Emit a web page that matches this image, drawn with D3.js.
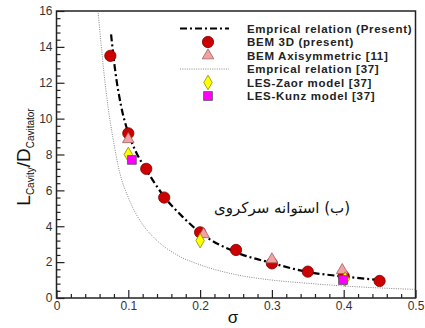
<!DOCTYPE html>
<html>
<head>
<meta charset="utf-8">
<script src="https://cdn.jsdelivr.net/npm/d3@7"></script>
<style>
  body { margin: 0; background: #fff; }
  svg { display: block; }
  .tick text { font-family: "Liberation Sans", Arial, sans-serif; font-size: 12px; fill: #333; }
</style>
</head>
<body>
<svg id="chart" width="425" height="328"></svg>
<script>
// Empirical relation (Present) - dash-dot curve
const empPresentSigma = [0.076, 0.082, 0.09, 0.1, 0.11, 0.125, 0.15, 0.175, 0.2, 0.25, 0.3, 0.35, 0.4, 0.45];
const empPresentL = [14.7, 12.6, 10.7, 9.2, 8.2, 7.15, 5.65, 4.55, 3.65, 2.55, 1.95, 1.45, 1.2, 1.0];
// Empirical relation [37] - dotted curve
const emp37Sigma = [0.058, 0.062, 0.066, 0.072, 0.08, 0.088, 0.1, 0.12, 0.14, 0.17, 0.2, 0.25, 0.3, 0.35, 0.4, 0.45, 0.5];
const emp37L = [15.9, 14.2, 12.6, 10.6, 8.6, 7.0, 5.6, 4.1, 3.2, 2.35, 1.85, 1.3, 1.0, 0.82, 0.67, 0.56, 0.48];
// BEM 3D (present)
const bem3dSigma = [0.075, 0.1, 0.125, 0.15, 0.2, 0.25, 0.3, 0.35, 0.4, 0.45];
const bem3dL = [13.5, 9.18, 7.2, 5.6, 3.66, 2.68, 1.93, 1.47, 1.22, 0.95];
// BEM Axisymmetric [11]
const bemAxiSigma = [0.1, 0.205, 0.3, 0.398];
const bemAxiL = [8.85, 3.55, 2.15, 1.55];
// LES-Zaor model [37]
const zaorSigma = [0.1, 0.2, 0.402];
const zaorL = [8.0, 3.2, 1.05];
// LES-Kunz model [37]
const kunzSigma = [0.105, 0.399];
const kunzL = [7.7, 1.0];

const xMajor = [0, 0.1, 0.2, 0.3, 0.4, 0.5];
const xMinor = [0.02, 0.04, 0.06, 0.08, 0.12, 0.14, 0.16, 0.18, 0.22, 0.24, 0.26, 0.28,
                0.32, 0.34, 0.36, 0.38, 0.42, 0.44, 0.46, 0.48];
const yMajor = [0, 2, 4, 6, 8, 10, 12, 14, 16];
const yMinor = [0.4, 0.8, 1.2, 1.6, 2.4, 2.8, 3.2, 3.6, 4.4, 4.8, 5.2, 5.6, 6.4, 6.8, 7.2, 7.6,
                8.4, 8.8, 9.2, 9.6, 10.4, 10.8, 11.2, 11.6, 12.4, 12.8, 13.2, 13.6, 14.4, 14.8, 15.2, 15.6];

const legendLabels = ["Emprical relation (Present)", "BEM 3D (present)", "BEM Axisymmetric [11]",
                      "Emprical relation [37]", "LES-Zaor model [37]", "LES-Kunz model [37]"];

const svg = d3.select("#chart");
const plotL = 56.5, plotR = 415.5, plotT = 11, plotB = 298;

const x = d3.scaleLinear().domain([0, 0.5]).range([plotL, plotR]);
const y = d3.scaleLinear().domain([0, 16]).range([plotB, plotT]);

// axes with inward ticks
svg.append("g").attr("transform", "translate(0," + plotB + ")")
    .call(d3.axisBottom(x).tickValues(xMajor).tickSize(-8).tickPadding(3)
      .tickFormat(d => d === 0 ? "0" : d3.format(".1f")(d)));
svg.append("g").attr("transform", "translate(0," + plotB + ")")
    .call(d3.axisBottom(x).tickValues(xMinor).tickSize(-4).tickFormat(""));

svg.append("g").attr("transform", "translate(" + plotL + ",0)")
    .call(d3.axisLeft(y).tickValues(yMajor).tickSize(-8).tickPadding(4));
svg.append("g").attr("transform", "translate(" + plotL + ",0)")
    .call(d3.axisLeft(y).tickValues(yMinor).tickSize(-4).tickFormat(""));

svg.selectAll(".domain").remove();
svg.selectAll(".tick line").attr("stroke", "#222").attr("stroke-width", 1.2);

// frame
svg.append("rect")
    .attr("x", plotL).attr("y", plotT)
    .attr("width", plotR - plotL).attr("height", plotB - plotT)
    .attr("fill", "none").attr("stroke", "#222").attr("stroke-width", 1.5);

const line = d3.line().x(d => x(d[0])).y(d => y(d[1])).curve(d3.curveMonotoneX);

svg.append("path")
    .datum(emp37Sigma.map((s, i) => [s, emp37L[i]]))
    .attr("d", line)
    .attr("fill", "none").attr("stroke", "#888").attr("stroke-width", 1)
    .attr("stroke-dasharray", "1,1.3");

svg.append("path")
    .datum(empPresentSigma.map((s, i) => [s, empPresentL[i]]))
    .attr("d", line)
    .attr("fill", "none").attr("stroke", "#000").attr("stroke-width", 2.2)
    .attr("stroke-dasharray", "7,3,2,3");

const styles = {
  circle: {type: d3.symbolCircle, size: 100, fill: "#cc0000", stroke: "#7a0000"},
  triangle: {type: d3.symbolTriangle, size: 58, fill: "#f2a2a2", stroke: "#a06060"},
  diamond: {type: d3.symbolDiamond, size: 62, fill: "#ffff00", stroke: "#8a8a00"},
  square: {type: d3.symbolSquare, size: 78, fill: "#ff00ff", stroke: "#555"}
};

function drawMarkers(xs, ys, st) {
  svg.append("g").selectAll("path")
    .data(xs.map((s, i) => [s, ys[i]]))
    .enter().append("path")
    .attr("transform", d => "translate(" + x(d[0]) + "," + y(d[1]) + ")")
    .attr("d", d3.symbol().type(st.type).size(st.size))
    .attr("fill", st.fill).attr("stroke", st.stroke).attr("stroke-width", 0.8);
}
drawMarkers(bem3dSigma, bem3dL, styles.circle);
drawMarkers(bemAxiSigma, bemAxiL, styles.triangle);
drawMarkers(zaorSigma, zaorL, styles.diamond);
drawMarkers(kunzSigma, kunzL, styles.square);

// legend
const lg = svg.append("g");
const rowY = i => 28.5 + i * 13.5;
const symX = 208;
lg.append("line").attr("x1", 180).attr("x2", 229).attr("y1", rowY(0)).attr("y2", rowY(0))
  .attr("stroke", "#000").attr("stroke-width", 2).attr("stroke-dasharray", "7,3,2,3");
lg.append("line").attr("x1", 180).attr("x2", 229).attr("y1", rowY(3)).attr("y2", rowY(3))
  .attr("stroke", "#888").attr("stroke-width", 1).attr("stroke-dasharray", "1,1.3");
[[1, styles.circle], [2, styles.triangle], [4, styles.diamond], [5, styles.square]].forEach(([i, st]) => {
  lg.append("path")
    .attr("transform", "translate(" + symX + "," + rowY(i) + ")")
    .attr("d", d3.symbol().type(st.type).size(st.size))
    .attr("fill", st.fill).attr("stroke", st.stroke).attr("stroke-width", 0.8);
});
lg.selectAll("text.lab")
  .data(legendLabels)
  .enter().append("text")
  .attr("class", "lab")
  .attr("x", 247).attr("y", (d, i) => rowY(i) + 4)
  .attr("font-family", "Liberation Sans, Arial, sans-serif")
  .attr("font-size", 11.5).attr("font-weight", "bold").attr("fill", "#222")
  .attr("letter-spacing", 0.7)
  .text(d => d);

// Persian annotation
svg.append("text")
  .attr("x", 350).attr("y", 213)
  .attr("text-anchor", "start")
  .attr("direction", "rtl")
  .attr("font-family", "DejaVu Sans, sans-serif")
  .attr("font-size", 15).attr("fill", "#111")
  .text("(ب) استوانه سرکروی");

// axis titles
svg.append("text")
  .attr("x", 233).attr("y", 323)
  .attr("text-anchor", "middle")
  .attr("font-family", "Liberation Sans, Arial, sans-serif")
  .attr("font-size", 17).attr("fill", "#111")
  .text("σ");

const yt = svg.append("text")
  .attr("transform", "translate(30,157) rotate(-90)")
  .attr("text-anchor", "middle")
  .attr("font-family", "Liberation Sans, Arial, sans-serif")
  .attr("fill", "#111");
yt.append("tspan").attr("font-size", 19).text("L");
yt.append("tspan").attr("font-size", 10).attr("dy", 4).text("Cavity");
yt.append("tspan").attr("font-size", 19).attr("dy", -4).text("/D");
yt.append("tspan").attr("font-size", 10).attr("dy", 4).text("Cavitator");
</script>
</body>
</html>
